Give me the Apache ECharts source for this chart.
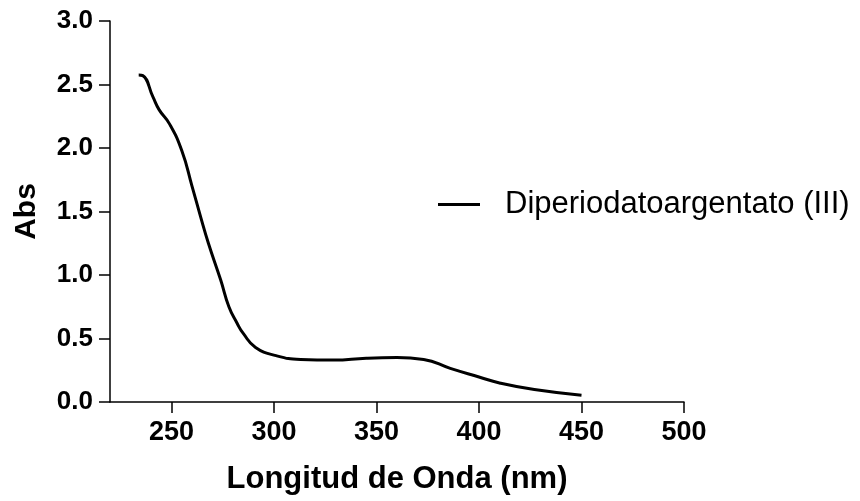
<!DOCTYPE html>
<html>
<head>
	<meta charset="utf-8">
	<title>Diperiodatoargentato (III)</title>
	<script src="https://cdn.jsdelivr.net/npm/echarts@6/dist/echarts.min.js"></script>
	<style>
		html, body { margin: 0; padding: 0; background: #fff; }
		#chart { width: 860px; height: 501px; }
	</style>
</head>
<body>
	<div id="chart"></div>
	<script type="text/javascript">
		var longitudOnda = [234, 236, 241, 244, 249, 255, 260, 264, 268, 274, 278, 282, 285, 291, 301, 313, 329, 345, 360, 373, 386, 400, 410, 427, 450];
		var absorbancia = [2.575, 2.57, 2.40, 2.30, 2.19, 1.98, 1.70, 1.47, 1.25, 0.96, 0.75, 0.62, 0.54, 0.43, 0.365, 0.335, 0.33, 0.345, 0.35, 0.335, 0.265, 0.197, 0.15, 0.098, 0.053];
		var ticksX = [250, 300, 350, 400, 450, 500];
		var nombreSerie = 'Diperiodatoargentato (III)';

		var puntos = [];
		for (var i = 0; i < longitudOnda.length; i++) {
			puntos.push([longitudOnda[i], absorbancia[i]]);
		}

		var myChart = echarts.init(document.getElementById('chart'));
		var fuente = 'Liberation Sans, Arial, sans-serif';

		var option = {
			animation: false,
			grid: {
				left: 110,
				right: 176,
				top: 21,
				bottom: 99
			},
			legend: {
				left: 438,
				top: 189,
				padding: 0,
				icon: 'rect',
				itemWidth: 42,
				itemHeight: 3,
				textStyle: {
					fontFamily: fuente,
					fontSize: 31,
					color: '#000',
					padding: [0, 0, 0, 20]
				},
				data: [nombreSerie]
			},
			xAxis: {
				type: 'value',
				min: 220,
				max: 500,
				name: 'Longitud de Onda (nm)',
				nameLocation: 'middle',
				nameGap: 62,
				nameTextStyle: {
					fontFamily: fuente,
					fontSize: 31,
					fontWeight: 'bold',
					color: '#000'
				},
				splitLine: { show: false },
				axisLine: {
					lineStyle: { color: '#000', width: 1.5 }
				},
				axisTick: {
					length: 11,
					customValues: ticksX,
					lineStyle: { color: '#000', width: 1.5 }
				},
				axisLabel: {
					customValues: ticksX,
					margin: 17,
					fontFamily: fuente,
					fontSize: 27,
					fontWeight: 'bold',
					color: '#000'
				}
			},
			yAxis: {
				type: 'value',
				min: 0,
				max: 3,
				interval: 0.5,
				name: 'Abs',
				nameLocation: 'middle',
				nameGap: 68,
				nameTextStyle: {
					fontFamily: fuente,
					fontSize: 30,
					fontWeight: 'bold',
					color: '#000'
				},
				splitLine: { show: false },
				axisLine: {
					show: true,
					lineStyle: { color: '#000', width: 1.5 }
				},
				axisTick: {
					show: true,
					length: 11,
					lineStyle: { color: '#000', width: 1.5 }
				},
				axisLabel: {
					margin: 17,
					fontFamily: fuente,
					fontSize: 26,
					fontWeight: 'bold',
					color: '#000',
					formatter: function(v) { return v.toFixed(1); }
				}
			},
			series: [{
				name: nombreSerie,
				type: 'line',
				smooth: 0.5,
				symbol: 'none',
				lineStyle: { color: '#000', width: 3 },
				itemStyle: { color: '#000' },
				data: puntos
			}]
		};
		myChart.setOption(option);
	</script>
</body>
</html>
